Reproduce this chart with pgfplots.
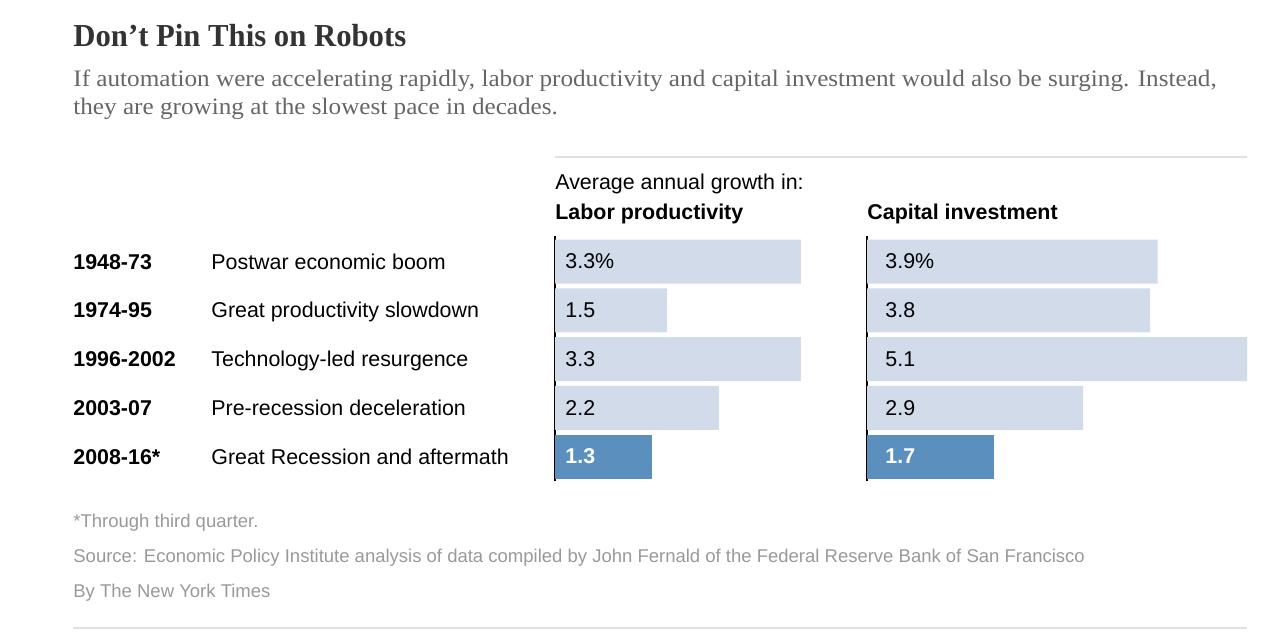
\documentclass[border=0pt]{standalone}
\usepackage{pgfplots}
\pgfplotsset{compat=1.18}
\usepackage{fontspec}
\setmainfont{Liberation Sans}
\newfontfamily\serif{Liberation Serif}
\definecolor{lightbar}{RGB}{209,219,234}
\definecolor{darkbar}{RGB}{90,143,190}
\definecolor{titlegray}{RGB}{51,51,51}
\definecolor{subgray}{RGB}{102,102,102}
\definecolor{footgray}{RGB}{153,153,153}
\definecolor{rulegray}{RGB}{224,224,224}
\newcommand\body{\fontsize{10.7pt}{12pt}\selectfont}

% one picture pixel = 0.5pt
\pgfplotsset{
  robots/.style={
    anchor=south west, scale only axis,
    width=190pt, height=122.4pt,
    xmin=0, xmax=5.1, ymin=-0.52, ymax=4.5, y dir=reverse,
    axis x line=none, axis y line*=left, ytick=\empty,
    y axis line style={black, line width=1pt},
    clip=false,
  },
  valuelbl/.style={draw=none, mark=none, nodes near coords, point meta=explicit symbolic,
    every node near coord/.append style={anchor=west, inner sep=0pt, xshift=#1, font=\body, text=black}},
  boldlbl/.style={draw=none, mark=none, nodes near coords, point meta=explicit symbolic,
    every node near coord/.append style={anchor=west, inner sep=0pt, xshift=#1, font=\body\bfseries, text=white}},
}

\begin{document}
\begin{tikzpicture}
\useasboundingbox (0,0) rectangle (642pt,-316.5pt);

\begin{scope}[x=0.5pt, y=-0.5pt]
  \node[anchor=base west, inner sep=0, text=titlegray] at (73,46)
    {\scalebox{0.96}[1]{\serif\fontsize{16pt}{18pt}\selectfont\bfseries Don’t Pin This on Robots}};
  \node[anchor=base west, inner sep=0, text=subgray] at (73,86)
    {\scalebox{1.067}[1]{\serif\fontsize{11.8pt}{13pt}\selectfont If automation were accelerating rapidly, labor productivity and capital investment would also be surging. Instead,}};
  \node[anchor=base west, inner sep=0, text=subgray] at (73,114)
    {\scalebox{1.067}[1]{\serif\fontsize{11.8pt}{13pt}\selectfont they are growing at the slowest pace in decades.}};

  \draw[rulegray, line width=1pt] (555,157) -- (1247,157);
  \node[anchor=base west, inner sep=0] at (555,189) {\body Average annual growth in:};
  \node[anchor=base west, inner sep=0] at (555,219) {\body\bfseries Labor productivity};
  \node[anchor=base west, inner sep=0] at (867,219) {\body\bfseries Capital investment};

  \foreach \yr/\desc/\yy in {1948-73/Postwar economic boom/262,
      1974-95/Great productivity slowdown/310,
      1996-2002/Technology-led resurgence/359,
      2003-07/Pre-recession deceleration/408,
      2008-16*/Great Recession and aftermath/457} {
    \node[anchor=base west, inner sep=0] at (73,\yy+7.5) {\body\bfseries \yr};
    \node[anchor=base west, inner sep=0] at (211,\yy+7.5) {\body \desc};
  }

  \node[anchor=base west, inner sep=0, text=footgray] at (73,527)
    {\fontsize{9.25pt}{11pt}\selectfont *Through third quarter.};
  \node[anchor=base west, inner sep=0, text=footgray] at (73,562)
    {\fontsize{9.25pt}{11pt}\selectfont Source: Economic Policy Institute analysis of data compiled by John Fernald of the Federal Reserve Bank of San Francisco};
  \node[anchor=base west, inner sep=0, text=footgray] at (73,597)
    {\fontsize{9.25pt}{11pt}\selectfont By The New York Times};
  \draw[rulegray, line width=1pt] (73,628) -- (1247,628);
\end{scope}

% Labor productivity
\begin{axis}[robots, at={(277.5pt,-240.5pt)}]
  \addplot[xbar, bar width=0.9, bar shift=0pt, fill=lightbar, draw=none]
    coordinates {(3.3,0) (1.5,1) (3.3,2) (2.2,3)};
  \addplot[xbar, bar width=0.9, bar shift=0pt, fill=darkbar, draw=none]
    coordinates {(1.3,4)};
  \addplot[valuelbl=5pt] coordinates {(0,0) [3.3\%] (0,1) [1.5] (0,2) [3.3] (0,3) [2.2]};
  \addplot[boldlbl=5pt] coordinates {(0,4) [1.3]};
\end{axis}

% Capital investment
\begin{axis}[robots, at={(433.5pt,-240.5pt)}]
  \addplot[xbar, bar width=0.9, bar shift=0pt, fill=lightbar, draw=none]
    coordinates {(3.9,0) (3.8,1) (5.1,2) (2.9,3)};
  \addplot[xbar, bar width=0.9, bar shift=0pt, fill=darkbar, draw=none]
    coordinates {(1.7,4)};
  \addplot[valuelbl=9pt] coordinates {(0,0) [3.9\%] (0,1) [3.8] (0,2) [5.1] (0,3) [2.9]};
  \addplot[boldlbl=9pt] coordinates {(0,4) [1.7]};
\end{axis}
\end{tikzpicture}
\end{document}
